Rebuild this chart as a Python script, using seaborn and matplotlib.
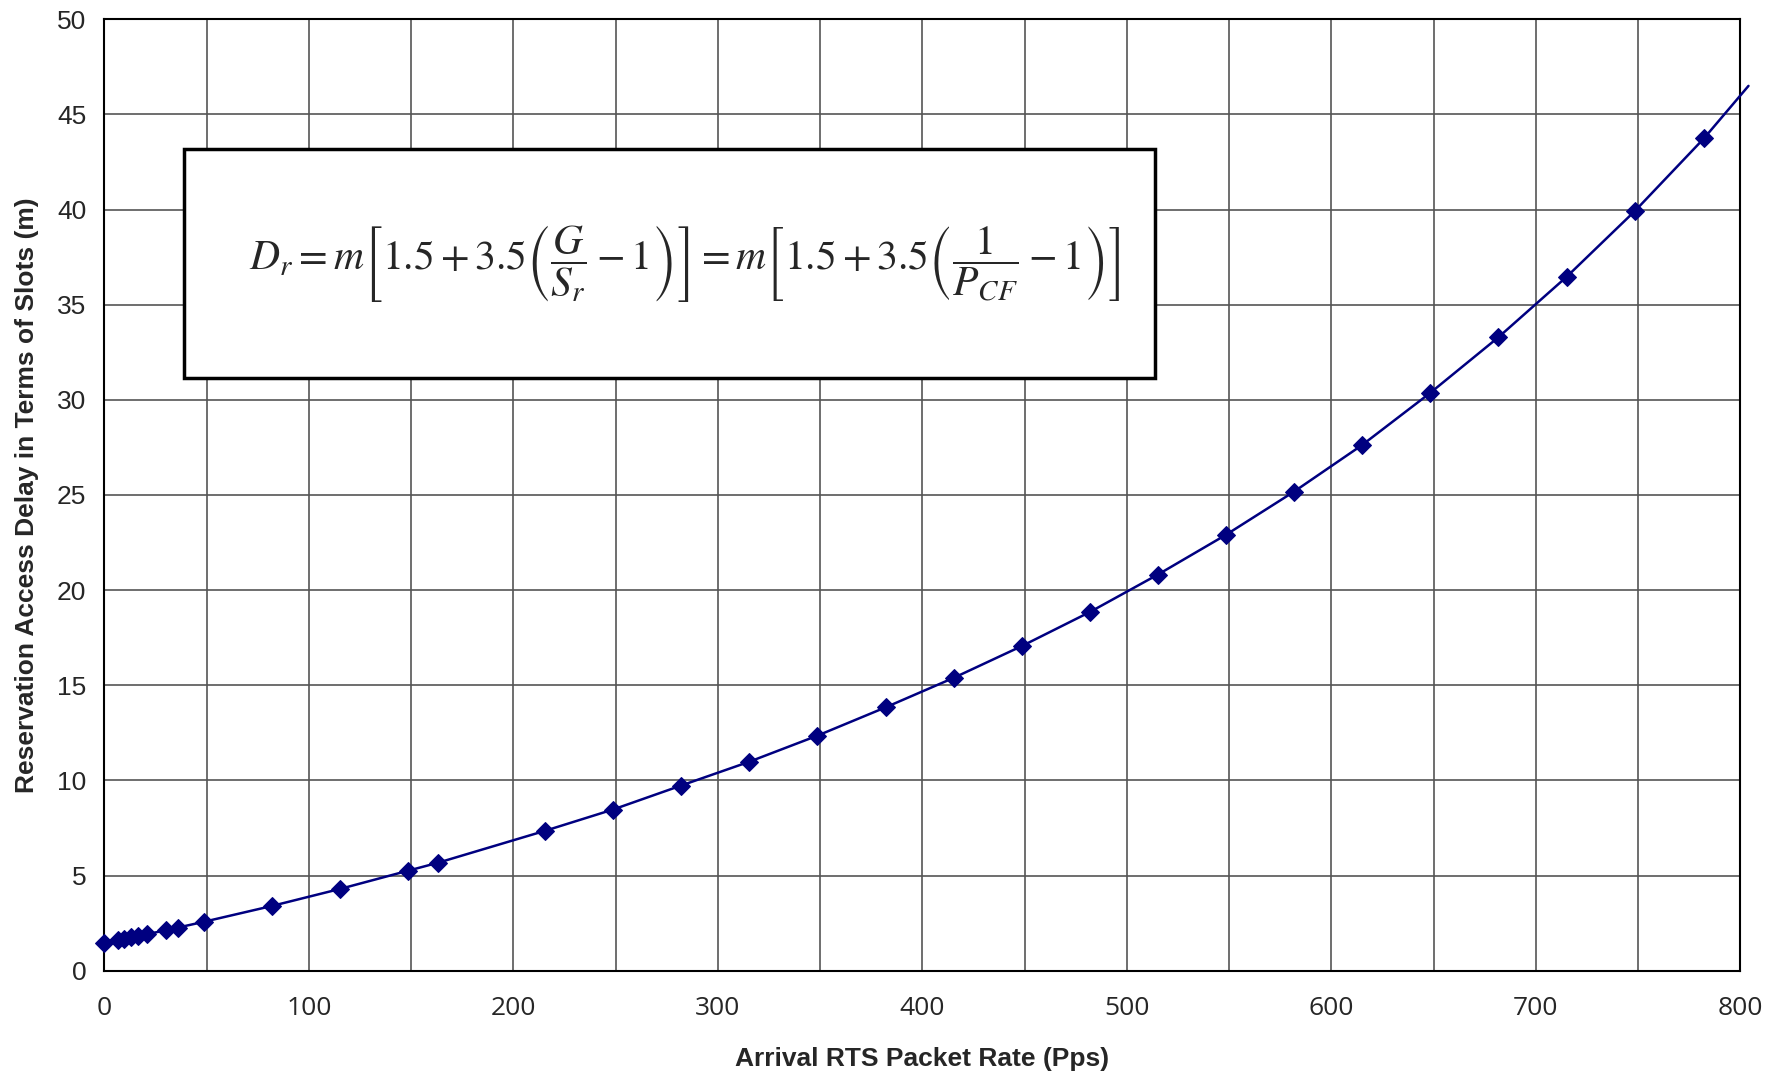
import matplotlib
matplotlib.use("Agg")
import matplotlib.pyplot as plt
import seaborn as sns
import pandas as pd
from matplotlib.patches import Rectangle

# values
rate = [0, 6.8, 9.7, 12.9, 16.6, 21, 30.1, 36.1, 48.6, 81.8, 115.3, 148.3, 163,
        215.4, 248.7, 282, 315.3, 348.6, 382, 415.3, 448.6, 481.9, 515.2,
        548.5, 581.8, 615.1, 648.4, 681.7, 715, 748.4, 782.2, 804]
delay = [1.48, 1.61, 1.68, 1.75, 1.82, 1.92, 2.13, 2.27, 2.57, 3.40, 4.30, 5.25, 5.67,
         7.35, 8.47, 9.73, 10.98, 12.35, 13.84, 15.39, 17.06, 18.85, 20.82,
         22.91, 25.18, 27.63, 30.37, 33.29, 36.46, 39.92, 43.74, 46.5]

df = pd.DataFrame({"rate": rate, "delay": delay})

sns.set_style("white")
plt.rcParams["font.family"] = ["Liberation Sans", "DejaVu Sans"]
plt.rcParams["mathtext.fontset"] = "stix"

fig = plt.figure(figsize=(17.8, 10.72), dpi=100)
ax = fig.add_axes([0.0587, 0.0945, 0.919, 0.8875])

sns.lineplot(data=df, x="rate", y="delay", ax=ax, color="#000080", linewidth=1.8,
             marker="D", markersize=9, markeredgecolor="#000080",
             markevery=list(range(len(rate) - 1)), clip_on=False, zorder=5)

ax.set_xlim(0, 800)
ax.set_ylim(0, 50)
ax.set_xticks(range(0, 801, 100))
ax.set_xticks(range(0, 801, 50), minor=True)
ax.set_yticks(range(0, 51, 5))
ax.grid(True, which="both", color="#555555", linewidth=1.2)
ax.set_axisbelow(True)
for s in ax.spines.values():
    s.set_color("black")
    s.set_linewidth(1.5)

ax.tick_params(axis="both", which="major", direction="out", length=8, width=1.2,
               color="black", labelsize=19)
ax.tick_params(axis="both", which="minor", length=0)
ax.tick_params(axis="x", pad=10)
ax.tick_params(axis="y", pad=5)
for lab in ax.get_xticklabels():
    lab.set_family(["Open Sans", "DejaVu Sans"])

ax.set_xlabel("Arrival RTS Packet Rate (Pps)", fontsize=19, fontweight="bold", labelpad=19)
ax.set_ylabel("Reservation Access Delay in Terms of Slots (m)", fontsize=19,
              fontweight="bold", labelpad=13)

box = Rectangle((0.0487, 0.623), 0.5933, 0.2407, transform=ax.transAxes,
                facecolor="white", edgecolor="black", linewidth=2.5, zorder=6)
ax.add_patch(box)
ax.text(0.355, 0.7435,
        r"$D_r = m\left[1.5+3.5\left(\dfrac{G}{S_r}-1\right)\right] = m\left[1.5+3.5\left(\dfrac{1}{P_{CF}}-1\right)\right]$",
        transform=ax.transAxes, ha="center", va="center", fontsize=30, zorder=7)

fig.savefig("out.png", dpi=100)
